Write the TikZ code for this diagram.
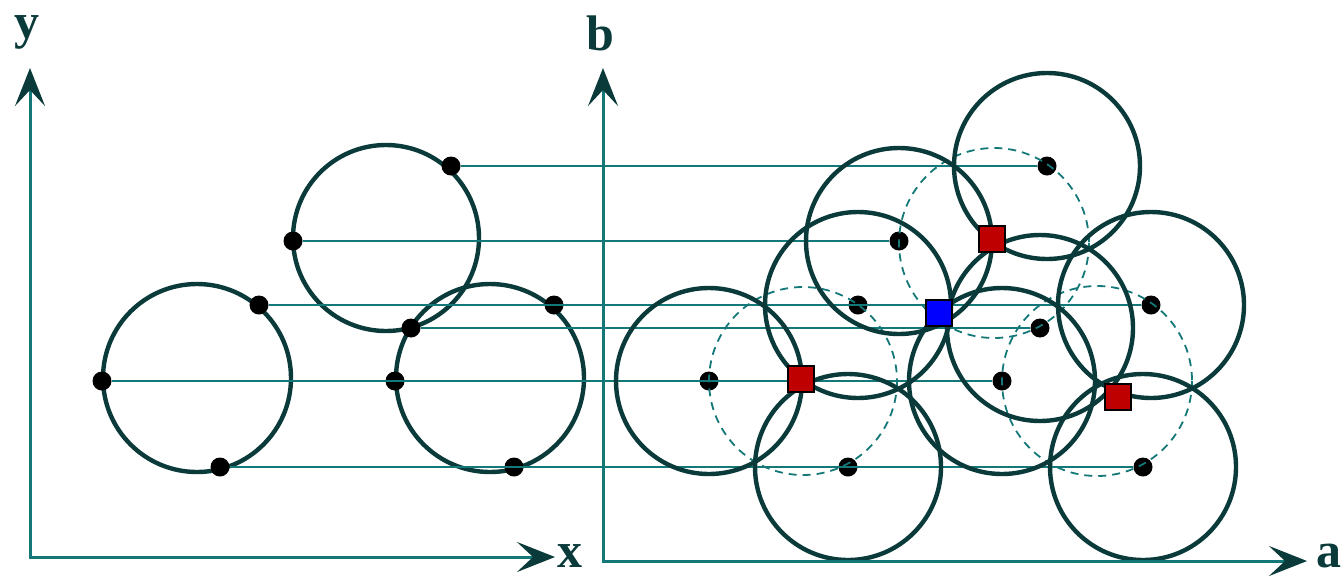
\documentclass[tikz,border=0pt]{standalone}
\usepackage{fontspec}
\setmainfont{Liberation Serif}
\usetikzlibrary{arrows.meta}

\definecolor{lineteal}{RGB}{20,120,120}
\definecolor{ringdark}{RGB}{10,58,58}
\definecolor{peakred}{RGB}{190,0,0}

\begin{document}
\begin{tikzpicture}[x=0.5pt, y=-0.5pt,
    axis/.style={lineteal, line width=1.5pt,
      {Stealth[length=19pt, width=15pt, inset=8pt, color=ringdark]}-{Stealth[length=19pt, width=15pt, inset=8pt, color=ringdark]}},
    hline/.style={lineteal, line width=1.4pt},
    ring/.style={ringdark, line width=2.2pt},
    ghost/.style={lineteal, line width=0.9pt, dash pattern=on 4pt off 3pt},
    dot/.style={circle, fill=black, inner sep=0pt, minimum size=9.5pt},
    peak/.style={rectangle, draw=black, line width=1pt, fill=peakred, inner sep=0pt, minimum size=13pt},
    fake/.style={peak, fill=blue},
    lbl/.style={font=\bfseries\fontsize{25}{30}\selectfont, text=ringdark, inner sep=0pt, anchor=base}]
  \useasboundingbox (0,0) rectangle (1342,579);

  % x-y space
  \coordinate (yTip) at (30,68);
  \coordinate (O1) at (30,557);
  \coordinate (xTip) at (555,557);
  \node[lbl] (ylab) at (27,38) {y};
  \node[lbl] (xlab) at (570,567) {x};

  \draw[ring] (197,378) circle (94);
  \draw[ring] (386,238) circle (93);
  \draw[ring] (490,378) circle (94);

  \node[dot] (e1) at (451,166) {};
  \node[dot] (e2) at (293,241) {};
  \node[dot] (e3) at (259,305) {};
  \node[dot] (e4) at (411,328) {};
  \node[dot] (e5) at (554,305) {};
  \node[dot] (e6) at (102,381) {};
  \node[dot] (e7) at (395,381) {};
  \node[dot] (e8) at (220,467) {};
  \node[dot] (e9) at (514,467) {};

  % a-b space
  \coordinate (bTip) at (603,68);
  \coordinate (O2) at (603,561);
  \coordinate (aTip) at (1307,561);
  \node[lbl] (blab) at (600,50) {b};
  \node[lbl, anchor=base west] (alab) at (1316,567) {a};

  \node[dot] (h1) at (1047,166) {};
  \node[dot] (h2) at (899,241) {};
  \node[dot] (h3) at (858,305) {};
  \node[dot] (h4) at (1040,328) {};
  \node[dot] (h5) at (1151,305) {};
  \node[dot] (h6) at (709,381) {};
  \node[dot] (h7) at (1002,381) {};
  \node[dot] (h8) at (848,467) {};
  \node[dot] (h9) at (1143,467) {};

  \foreach \i in {1,...,9}
    \draw[hline] (e\i) -- (h\i);

  \draw[ghost] (803,381) circle (94);
  \draw[ghost] (994,243) circle (95);
  \draw[ghost] (1097,381) circle (95);

  \foreach \i in {1,...,9}
    \draw[ring] (h\i) circle (93);

  \node[peak] (m1) at (801,379) {};
  \node[peak] (m2) at (992,239) {};
  \node[peak] (m3) at (1118,397) {};
  \node[fake] (f) at (939,313) {};

  \draw[axis] (yTip) -- (O1) -- (xTip);
  \draw[axis] (bTip) -- (O2) -- (aTip);
\end{tikzpicture}
\end{document}
